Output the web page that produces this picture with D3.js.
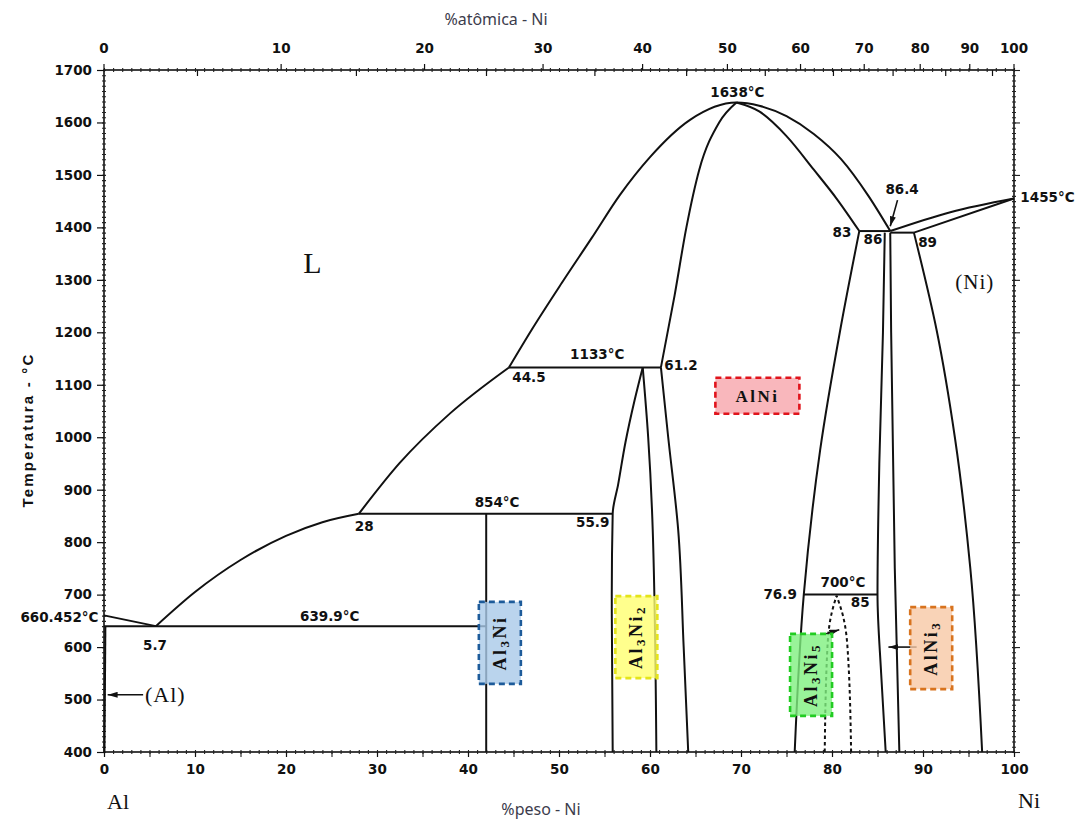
<!DOCTYPE html>
<html>
<head>
<meta charset="utf-8">
<script src="https://cdn.jsdelivr.net/npm/d3@7.9.0/dist/d3.min.js"></script>
<style>
  body { margin: 0; background: #fff; }
  svg { display: block; }
  .num { font-family: "DejaVu Sans", sans-serif; font-weight: bold; font-size: 13.5px; fill: #111; }
  .serif { font-family: "Liberation Serif", "DejaVu Serif", serif; fill: #111; }
</style>
</head>
<body>
<svg id="chart" width="1081" height="819"></svg>
<script>
// Al-Ni phase diagram, wt% Ni vs temperature (°C)

// branches drawn along x [wt% Ni, °C]
const meltAl = [[0, 660.452], [5.7, 639.9]];
const liqEutectic = [[5.7, 639.9], [10, 705], [15, 766], [20, 812], [24, 838], [28, 854]];
const liqMid = [[28, 854], [32.5, 951], [38, 1045], [44.5, 1133]];
const liqDome = [[44.5, 1133], [47, 1205], [50.3, 1294], [53.6, 1380], [56.7, 1462], [60, 1534],
  [64.4, 1605], [69.5, 1638], [72, 1632], [75, 1612], [78, 1578], [81, 1530], [84, 1460], [86.4, 1393]];
const liqNi = [[86.4, 1393], [93, 1429], [100, 1455]];
const solNi = [[89, 1390], [100, 1455]];
const alNiLeftHigh = [[61.2, 1133], [62.7, 1270], [64.0, 1400], [65.4, 1509], [67.6, 1600], [69.5, 1638]];
const alNiRightHigh = [[69.5, 1638], [72, 1621], [75, 1574], [78, 1510], [80.5, 1455], [83, 1393]];

// branches drawn along T [wt% Ni, °C] (T decreasing)
const solvusNi = [[89, 1390], [91.5, 1204], [93.5, 1000], [95.2, 750], [96.5, 400]];
const alNiLeftLow = [[61.2, 1133], [62.0, 1000], [63.1, 823], [63.7, 600], [64.2, 400]];
const alNiRightLow = [[83, 1393], [80.9, 1204], [78.7, 976], [76.9, 700], [75.9, 400]];
const al3ni2Left = [[59.2, 1133], [58.3, 1070], [57.3, 990], [56.5, 910], [55.9, 854], [55.8, 700], [55.9, 400]];
const al3ni2Right = [[59.2, 1133], [59.8, 1000], [60.3, 823], [60.7, 400]];
const al3ni = [[42, 854], [42, 400]];
const alNi3Left = [[85.8, 1390], [85.6, 1200], [85.2, 950], [85.0, 700], [85.4, 550], [85.9, 400]];
const alNi3Right = [[86.4, 1390], [86.5, 1200], [86.9, 750], [87.4, 400]];
const solvusAl = [[0.15, 639.9], [0.05, 400]];
const al3ni5Left = [[80.5, 698], [79.9, 660], [79.5, 600], [79.2, 400]];
const al3ni5Right = [[80.5, 698], [81.2, 660], [81.7, 600], [82.1, 400]];

const xLines = [meltAl, liqEutectic, liqMid, liqDome, liqNi, solNi, alNiLeftHigh, alNiRightHigh];
const yLines = [solvusNi, alNiLeftLow, alNiRightLow, al3ni2Left, al3ni2Right, al3ni, alNi3Left, alNi3Right, solvusAl];
const dashedLines = [al3ni5Left, al3ni5Right];

// isotherms: temperature, from wt%, to wt%
const isoTemps = [639.9, 854, 1133, 700, 1393, 1390];
const isoFrom = [0, 28, 44.5, 76.9, 83, 86.4];
const isoTo = [42, 55.9, 61.2, 85, 86.4, 89];

// numeric annotations
const noteText = ["1638°C", "1133°C", "854°C", "639.9°C", "700°C", "5.7", "28", "44.5", "61.2", "55.9",
  "76.9", "85", "83", "86", "89", "86.4", "1455°C", "660.452°C"];
const noteWt = [69.6, 54.2, 43.2, 24.8, 81.2, 5.6, 28.6, 46.7, 63.4, 53.7, 74.3, 83.1, 81.1, 84.5, 90.5, 87.7, 100.7, -0.6];
const noteT = [1656, 1157, 875, 657, 722, 602, 829, 1113, 1136, 836, 699, 684, 1389, 1376, 1370, 1471, 1456, 655];
const noteAnchor = ["middle", "middle", "middle", "middle", "middle", "middle", "middle", "middle", "middle", "middle",
  "middle", "middle", "middle", "middle", "middle", "middle", "start", "end"];

// phase names in boxes: base, sub, base, sub
const phaseNames = [["Al", "3", "Ni", ""], ["Al", "3", "Ni", "2"], ["AlNi", "", "", ""], ["Al", "3", "Ni", "5"], ["AlNi", "3", "", ""]];
const phaseWt = [43.5, 58.5, 71.8, 77.7, 90.9];
const phaseT = [608, 619, 1079, 547, 598];
const phaseFill = ["#a9c9e9", "#ffff70", "#f7a5ab", "#80f080", "#f7c8a5"];
const phaseStroke = ["#1d5b9a", "#e4e41a", "#e0141c", "#22cc22", "#d8731e"];

// arrows [from wt, from T, to wt, to T]
const arrows = [[4.3, 509, 0.4, 509], [87.2, 1452, 86.4, 1402], [89.3, 600, 86.2, 600], [79.3, 625, 80.8, 633]];

// tick values
const wtTicks = d3.range(0, 101, 10);
const atTicks = d3.range(0, 101, 10);
const tempTicks = d3.range(400, 1701, 100);

const atToWt = at => at * 58.69 / (at * 58.69 + (100 - at) * 26.98) * 100;

const svg = d3.select('#chart');
const x = d3.scaleLinear().domain([0, 100]).range([104, 1014]);
const y = d3.scaleLinear().domain([400, 1700]).range([752, 70]);

// frame
svg.append('rect').attr('x', x(0)).attr('y', y(1700))
  .attr('width', x(100) - x(0)).attr('height', y(400) - y(1700))
  .attr('fill', 'none').attr('stroke', '#111').attr('stroke-width', 1.6);

// minor ticks (dotted look)
function minor(axisFn, values, size, tx, ty) {
  svg.append('g').attr('transform', `translate(${tx},${ty})`)
    .call(axisFn.tickValues(values).tickSize(size).tickFormat(''))
    .call(g => g.select('.domain').remove())
    .call(g => g.selectAll('line').attr('stroke', '#222').attr('stroke-width', 1.1));
}
const wtMinor = d3.range(0, 101, 1);
const tMinor = d3.range(400, 1701, 10);
minor(d3.axisBottom(x), wtMinor, 2, 0, y(400));
minor(d3.axisTop(x), wtMinor, 2, 0, y(400));
minor(d3.axisBottom(x), wtMinor, 2, 0, y(1700));
minor(d3.axisTop(x), wtMinor, 2, 0, y(1700));
minor(d3.axisLeft(y), tMinor, 2, x(0), 0);
minor(d3.axisRight(y), tMinor, 2, x(0), 0);
minor(d3.axisLeft(y), tMinor, 2, x(100), 0);
minor(d3.axisRight(y), tMinor, 2, x(100), 0);
minor(d3.axisBottom(x), d3.range(5, 100, 10), 5, 0, y(400));
minor(d3.axisRight(y), tempTicks, 6, x(100), 0);

// bottom axis: wt%
svg.append('g').attr('transform', `translate(0,${y(400)})`)
  .call(d3.axisBottom(x).tickValues(wtTicks).tickSize(5).tickPadding(7).tickFormat(d3.format('d')))
  .call(g => g.select('.domain').remove())
  .call(g => g.selectAll('line').attr('stroke', '#111').attr('stroke-width', 1.2))
  .call(g => g.selectAll('text').attr('class', 'num').attr('font-size', null).attr('font-family', null));

// left axis: temperature
svg.append('g').attr('transform', `translate(${x(0)},0)`)
  .call(d3.axisLeft(y).tickValues(tempTicks).tickSize(7).tickPadding(5).tickFormat(d3.format('d')))
  .call(g => g.select('.domain').remove())
  .call(g => g.selectAll('line').attr('stroke', '#111').attr('stroke-width', 1.2))
  .call(g => g.selectAll('text').attr('class', 'num').attr('font-size', null).attr('font-family', null));

// top axis: atomic %
const xa = v => x(atToWt(v));
const topG = svg.append('g').attr('transform', `translate(0,${y(1700)})`);
topG.selectAll('line.maj').data(atTicks).join('line').attr('class', 'maj')
  .attr('x1', xa).attr('x2', xa).attr('y1', 0).attr('y2', -6)
  .attr('stroke', '#111').attr('stroke-width', 1.2);
topG.selectAll('line.mid').data(d3.range(5, 100, 10)).join('line')
  .attr('class', 'mid').attr('x1', xa).attr('x2', xa).attr('y1', 0).attr('y2', 6)
  .attr('stroke', '#111').attr('stroke-width', 1.2);
topG.selectAll('text').data(atTicks).join('text')
  .attr('class', 'num').attr('x', xa).attr('y', -21).attr('text-anchor', 'middle')
  .attr('dominant-baseline', 'middle').text(d => d);

// phase boundaries
const lineX = d3.line().x(d => x(d[0])).y(d => y(d[1])).curve(d3.curveMonotoneX);
const lineY = d3.line().x(d => x(d[0])).y(d => y(d[1])).curve(d3.curveMonotoneY);
const plot = svg.append('g').attr('fill', 'none').attr('stroke', '#111').attr('stroke-width', 2)
  .attr('stroke-linejoin', 'round');
plot.selectAll('path.xl').data(xLines).join('path').attr('class', 'xl').attr('d', lineX);
plot.selectAll('path.yl').data(yLines).join('path').attr('class', 'yl')
  .attr('d', d => lineY(d.slice().reverse()));
plot.selectAll('path.dash').data(dashedLines).join('path').attr('class', 'dash')
  .attr('d', d => lineY(d.slice().reverse()))
  .attr('stroke-dasharray', '3.5,3');
plot.selectAll('line.iso').data(isoTemps).join('line').attr('class', 'iso')
  .attr('x1', (d, i) => x(isoFrom[i])).attr('x2', (d, i) => x(isoTo[i]))
  .attr('y1', d => y(d)).attr('y2', d => y(d));

// arrows
svg.append('defs').append('marker').attr('id', 'head')
  .attr('viewBox', '0 0 10 6').attr('refX', 10).attr('refY', 3)
  .attr('markerWidth', 10).attr('markerHeight', 6).attr('markerUnits', 'userSpaceOnUse')
  .attr('orient', 'auto')
  .append('path').attr('d', 'M0,0 L10,3 L0,6 Z').attr('fill', '#111');
svg.append('g').selectAll('line').data(arrows).join('line')
  .attr('x1', d => x(d[0])).attr('y1', d => y(d[1]))
  .attr('x2', d => x(d[2])).attr('y2', d => y(d[3]))
  .attr('stroke', '#111').attr('stroke-width', 1.6).attr('marker-end', 'url(#head)');

// numeric notes
svg.append('g').selectAll('text').data(noteText).join('text')
  .attr('class', 'num').attr('font-size', 12.5)
  .attr('x', (d, i) => x(noteWt[i])).attr('y', (d, i) => y(noteT[i]))
  .attr('text-anchor', (d, i) => noteAnchor[i]).attr('dominant-baseline', 'middle')
  .text(d => d);

// phase boxes
const boxes = svg.append('g').selectAll('g').data(phaseNames).join('g')
  .attr('transform', (d, i) => `translate(${x(phaseWt[i])},${y(phaseT[i])})`);
boxes.append('rect')
  .attr('x', (d, i) => i === 2 ? -42 : -21).attr('y', (d, i) => i === 2 ? -18 : -41)
  .attr('width', (d, i) => i === 2 ? 84 : 42).attr('height', (d, i) => i === 2 ? 36 : 82)
  .attr('fill', (d, i) => phaseFill[i]).attr('fill-opacity', 0.8)
  .attr('stroke', (d, i) => phaseStroke[i]).attr('stroke-width', 2.6)
  .attr('stroke-dasharray', '6,4');
const ptxt = boxes.append('text').attr('class', 'serif')
  .attr('font-weight', 'bold').attr('font-size', (d, i) => i === 2 ? 17 : 18)
  .attr('letter-spacing', 2.5)
  .attr('fill', '#3a2020')
  .attr('text-anchor', 'middle').attr('dominant-baseline', 'central')
  .attr('transform', (d, i) => i === 2 ? null : 'rotate(-90)');
ptxt.each(function (d) {
  const t = d3.select(this);
  t.append('tspan').text(d[0]);
  if (d[1]) t.append('tspan').attr('font-size', 13).attr('dy', 4).text(d[1]);
  if (d[2]) t.append('tspan').attr('dy', d[1] ? -4 : 0).text(d[2]);
  if (d[3]) t.append('tspan').attr('font-size', 13).attr('dy', 4).text(d[3]);
});

// region labels
svg.append('text').attr('class', 'serif').attr('x', x(22.9)).attr('y', y(1334))
  .attr('text-anchor', 'middle').attr('dominant-baseline', 'central').attr('font-size', 30).text('L');
svg.append('text').attr('class', 'serif').attr('x', x(95.7)).attr('y', y(1296))
  .attr('text-anchor', 'middle').attr('dominant-baseline', 'central').attr('font-size', 21)
  .attr('letter-spacing', 1).text('(Ni)');
svg.append('text').attr('class', 'serif').attr('x', x(4.5)).attr('y', y(509))
  .attr('text-anchor', 'start').attr('dominant-baseline', 'central').attr('font-size', 22)
  .attr('letter-spacing', 1).text('(Al)');
svg.append('text').attr('class', 'serif').attr('x', 118).attr('y', 801)
  .attr('text-anchor', 'middle').attr('dominant-baseline', 'central').attr('font-size', 22).text('Al');
svg.append('text').attr('class', 'serif').attr('x', 1029).attr('y', 800)
  .attr('text-anchor', 'middle').attr('dominant-baseline', 'central').attr('font-size', 22).text('Ni');

// axis titles
svg.append('text').attr('x', 496).attr('y', 19).attr('text-anchor', 'middle')
  .attr('dominant-baseline', 'central').attr('font-family', 'Noto Sans, sans-serif')
  .attr('font-size', 16).attr('fill', '#3c3c4c').text('%atômica - Ni');
svg.append('text').attr('x', 541).attr('y', 809).attr('text-anchor', 'middle')
  .attr('dominant-baseline', 'central').attr('font-family', 'Noto Sans, sans-serif')
  .attr('font-size', 16).attr('fill', '#3c3c4c').text('%peso - Ni');
svg.append('text').attr('transform', 'translate(27,430) rotate(-90)').attr('text-anchor', 'middle')
  .attr('dominant-baseline', 'central').attr('font-family', 'Liberation Sans, Arial, sans-serif')
  .attr('font-weight', 'bold').attr('font-size', 15).attr('letter-spacing', 2.2)
  .attr('fill', '#111').text('Temperatura - °C');
</script>
</body>
</html>
